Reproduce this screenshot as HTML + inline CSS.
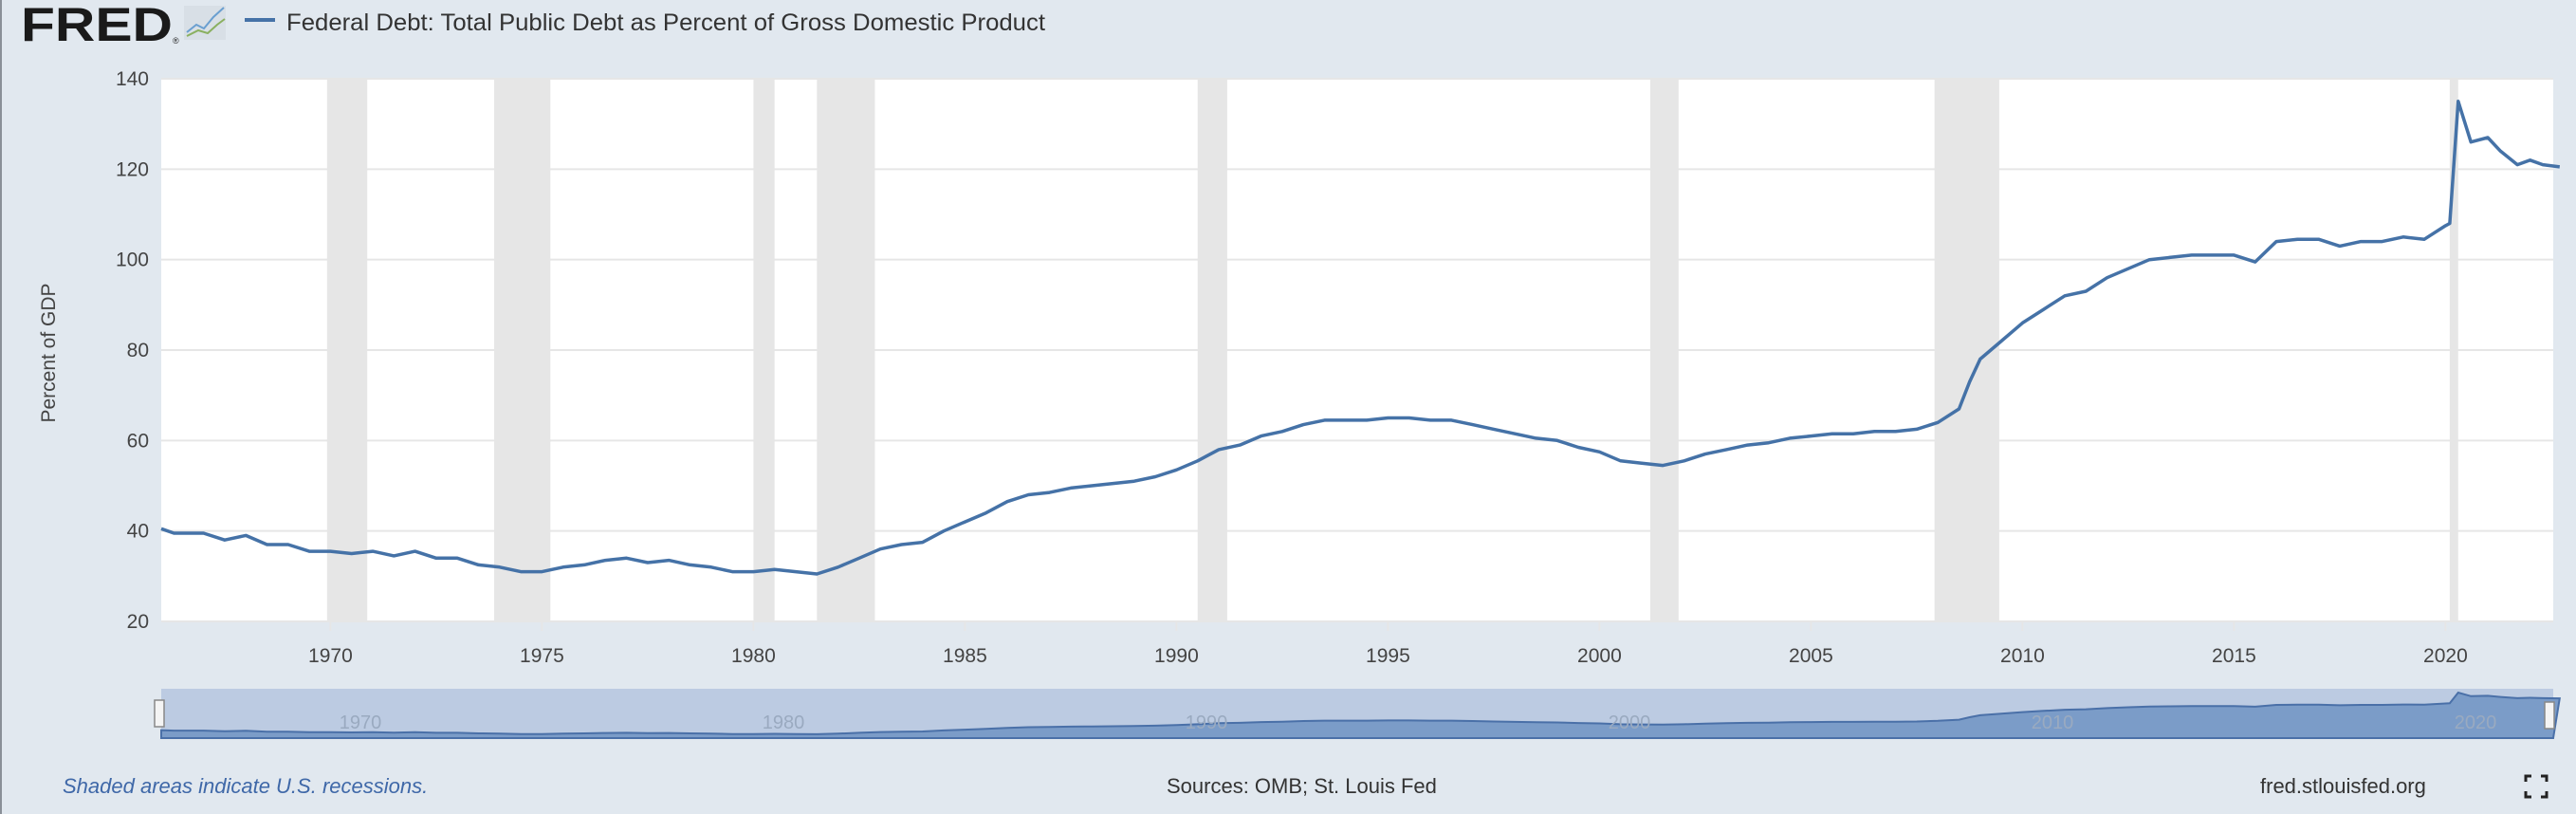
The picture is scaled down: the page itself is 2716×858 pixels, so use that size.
<!DOCTYPE html>
<html><head><meta charset="utf-8"><style>
html,body{margin:0;padding:0;background:#e1e8ef;}
body{width:2716px;height:858px;position:relative;overflow:hidden;font-family:"Liberation Sans",sans-serif;}
</style></head><body>
<svg id="s" width="2716" height="858" xmlns="http://www.w3.org/2000/svg" style="position:absolute;left:0;top:0">
<rect x="0" y="0" width="2716" height="858" fill="#e1e8ef"/>
<line x1="1" y1="0" x2="1" y2="858" stroke="#8a9098" stroke-width="2"/>
<text x="22" y="43" font-size="50" font-weight="bold" fill="#1a1a1a" font-family="Liberation Sans, sans-serif" textLength="160" lengthAdjust="spacingAndGlyphs">FRED</text>
<text x="182" y="46" font-size="9" fill="#1a1a1a">®</text>
<rect x="194" y="6" width="44" height="36" fill="#d8dfe6"/>
<polyline points="197,34 207,26 215,30 225,18 236,8" fill="none" stroke="#6a9fd0" stroke-width="2"/>
<polyline points="197,38 209,32 219,35 229,26 237,20" fill="none" stroke="#8ab060" stroke-width="2"/>
<line x1="258" y1="21" x2="290" y2="21" stroke="#4572a7" stroke-width="4"/>
<text x="302" y="32" font-size="25" fill="#333" textLength="800" lengthAdjust="spacingAndGlyphs">Federal Debt: Total Public Debt as Percent of Gross Domestic Product</text>
<rect x="170" y="83" width="2522" height="572" fill="#fff"/>
<g id="rec" fill="#e6e6e6"></g>
<g id="grid" stroke="#e6e6e6" stroke-width="2"></g>
<g id="ylab" font-size="21" fill="#444" text-anchor="end"></g>
<g id="xlab" font-size="21" fill="#444" text-anchor="middle"></g>
<text transform="translate(58,372) rotate(-90)" font-size="21" fill="#444" text-anchor="middle">Percent of GDP</text>
<polyline id="line" fill="none" stroke="#4572a7" stroke-width="3.5" stroke-linejoin="round"/>
<rect x="170" y="726" width="2522" height="52" fill="#bccbe2"/>
<polygon id="nav" fill="#7b9cc8" stroke="#4a70a8" stroke-width="2"/>
<g id="navlab" font-size="20" fill="#9aaac0" text-anchor="middle"></g>
<rect x="163" y="738" width="10" height="28" fill="#f4f4f4" stroke="#888" stroke-width="1.5"/>
<rect x="2683" y="740" width="10" height="28" fill="#f4f4f4" stroke="#888" stroke-width="1.5"/>
<text x="66" y="836" font-size="22" font-style="italic" fill="#3f68a8">Shaded areas indicate U.S. recessions.</text>
<text x="1230" y="836" font-size="22" fill="#333">Sources: OMB; St. Louis Fed</text>
<text x="2383" y="836" font-size="22" fill="#333">fred.stlouisfed.org</text>
<path d="M2663,824 v-6 h6 M2679,818 h6 v6 M2685,834 v6 h-6 M2669,840 h-6 v-6" fill="none" stroke="#222" stroke-width="3"/>
</svg>
<script>
var NS="http://www.w3.org/2000/svg";
function el(p,t,a,txt){var e=document.createElementNS(NS,t);for(var k in a)e.setAttribute(k,a[k]);if(txt)e.textContent=txt;document.getElementById(p).appendChild(e);return e;}
var X=function(y){return 170+(y-1966.0)*44.6;};
var Y=function(v){return 655-(v-20)*572/120;};
[[1969.92,1970.87],[1973.87,1975.2],[1980.0,1980.5],[1981.5,1982.87],[1990.5,1991.2],[2001.2,2001.87],[2007.92,2009.45],[2020.1,2020.3]].forEach(function(r){el("rec","rect",{x:X(r[0]),y:83,width:X(r[1])-X(r[0]),height:572});});
for(var v=20;v<=140;v+=20){el("grid","line",{x1:170,x2:2692,y1:Y(v),y2:Y(v)});el("ylab","text",{x:157,y:Y(v)+7},String(v));}
for(var y=1970;y<=2020;y+=5){el("grid","line",{x1:X(y),x2:X(y),y1:655,y2:665});el("xlab","text",{x:X(y),y:698},String(y));}
var d=[1966.0,40.5,1966.3,39.5,1967,39.5,1967.5,38,1968,39,1968.5,37,1969,37,1969.5,35.5,1970,35.5,1970.5,35,1971,35.5,1971.5,34.5,1972,35.5,1972.5,34,1973,34,1973.5,32.5,1974,32,1974.5,31,1975,31,1975.5,32,1976,32.5,1976.5,33.5,1977,34,1977.5,33,1978,33.5,1978.5,32.5,1979,32,1979.5,31,1980,31,1980.5,31.5,1981,31,1981.5,30.5,1982,32,1982.5,34,1983,36,1983.5,37,1984,37.5,1984.5,40,1985,42,1985.5,44,1986,46.5,1986.5,48,1987,48.5,1987.5,49.5,1988,50,1988.5,50.5,1989,51,1989.5,52,1990,53.5,1990.5,55.5,1991,58,1991.5,59,1992,61,1992.5,62,1993,63.5,1993.5,64.5,1994,64.5,1994.5,64.5,1995,65,1995.5,65,1996,64.5,1996.5,64.5,1997,63.5,1997.5,62.5,1998,61.5,1998.5,60.5,1999,60,1999.5,58.5,2000,57.5,2000.5,55.5,2001,55,2001.5,54.5,2002,55.5,2002.5,57,2003,58,2003.5,59,2004,59.5,2004.5,60.5,2005,61,2005.5,61.5,2006,61.5,2006.5,62,2007,62,2007.5,62.5,2008,64,2008.5,67,2008.75,73,2009,78,2009.5,82,2010,86,2010.5,89,2011,92,2011.5,93,2012,96,2012.5,98,2013,100,2013.5,100.5,2014,101,2014.5,101,2015,101,2015.5,99.5,2016,104,2016.5,104.5,2017,104.5,2017.5,103,2018,104,2018.5,104,2019,105,2019.5,104.5,2020,107.5,2020.1,108,2020.3,135,2020.6,126,2021,127,2021.3,124,2021.7,121,2022,122,2022.3,121,2022.7,120.5];
var pts=[],np=["170,778"];
for(var i=0;i<d.length;i+=2){pts.push(X(d[i]).toFixed(1)+","+Y(d[i+1]).toFixed(1));np.push(X(d[i]).toFixed(1)+","+(772-(d[i+1]-35)*0.42).toFixed(1));}
np.push("2692,778");
document.getElementById("line").setAttribute("points",pts.join(" "));
document.getElementById("nav").setAttribute("points",np.join(" "));
[[1970,380],[1980,826],[1990,1272],[2000,1718],[2010,2164],[2020,2610]].forEach(function(a){el("navlab","text",{x:a[1],y:768},String(a[0]));});
</script>
</body></html>
